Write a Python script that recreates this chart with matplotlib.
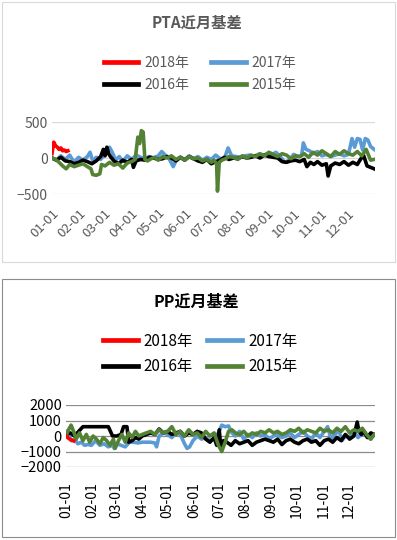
import matplotlib
matplotlib.use("Agg")
import matplotlib.pyplot as plt
from matplotlib.patches import Rectangle

plt.rcParams['font.family'] = ['Noto Sans CJK SC', 'DejaVu Sans']

month_days = [0, 31, 59, 90, 120, 151, 181, 212, 243, 273, 304, 334]
month_labels = ['01-01', '02-01', '03-01', '04-01', '05-01', '06-01',
                '07-01', '08-01', '09-01', '10-01', '11-01', '12-01']

# ---------------- PTA ----------------
pta_2018_d = [0, 2, 4, 6, 8, 10, 12, 14, 16, 18]
pta_2018_v = [60, 220, 170, 150, 120, 140, 100, 110, 90, 100]

pta_2017_d = [0, 5, 10, 15, 20, 25, 30, 35, 40, 43, 46, 50, 55, 60, 65, 68, 72, 76, 80, 85, 90, 95, 100, 105,
              110, 115, 120, 124, 128, 132, 137, 140, 145, 150, 155, 160, 165, 170, 175, 180, 185, 190, 195,
              199, 203, 208, 213, 218, 223, 228, 233, 238, 243, 248, 253, 258, 263, 268, 273, 278, 282, 284,
              287, 291, 295, 300, 305, 310, 315, 320, 325, 330, 335, 339, 342, 345, 348, 351, 354, 357, 360, 364]
pta_2017_v = [0, -30, 30, -20, 40, -60, 10, -30, 20, 80, -40, 10, -20, 60, 150, 80, -30, 20, -50, 30, -20, 40,
              10, -10, 20, 0, 30, 90, 40, 0, -120, -40, 10, -20, 30, -10, 20, -30, 10, -20, 40, -10, 0, 140, 30,
              20, 10, 30, 40, 20, 50, 30, 60, 40, 80, 20, -60, -30, 50, 20, 30, 210, 120, 100, 60, 90, 30, 50,
              20, 40, 60, 30, 50, 270, 150, 270, 260, 110, 270, 250, 160, 120]

pta_2016_d = [0, 5, 10, 15, 20, 25, 30, 35, 40, 45, 50, 55, 58, 60, 62, 64, 66, 70, 75, 80, 85, 90, 92, 95, 100,
              105, 110, 115, 120, 125, 130, 135, 140, 145, 150, 155, 160, 165, 170, 175, 180, 185, 190, 195,
              200, 205, 210, 215, 220, 225, 230, 235, 240, 245, 250, 255, 260, 265, 270, 275, 280, 285, 288,
              292, 296, 300, 305, 310, 312, 315, 320, 325, 330, 335, 340, 345, 348, 352, 356, 360, 364]
pta_2016_v = [0, -30, 10, -40, -50, -80, -60, -30, -50, -80, -40, 20, 120, 30, 150, 60, 20, -40, -80, -30, -60,
              -20, -130, -40, -20, -30, 10, 0, -20, -10, 20, 0, -40, 10, -30, 20, -10, -40, -60, -20, -80, -50,
              -30, 10, -20, 0, -10, 20, 0, 10, 30, 0, 40, 20, 10, 0, -50, -60, -40, -30, -50, -20, -120, -60,
              -90, -50, -100, -80, -250, -110, -70, -90, -50, -100, -60, -90, -30, 40, -110, -130, -150]

pta_2015_d = [0, 4, 8, 12, 16, 20, 25, 30, 35, 40, 44, 46, 50, 54, 56, 60, 65, 70, 75, 80, 85, 90, 94, 97, 99,
              101, 103, 105, 108, 112, 116, 120, 125, 130, 135, 140, 145, 150, 155, 160, 165, 170, 175, 180,
              183, 186, 187, 189, 192, 196, 200, 205, 210, 215, 220, 225, 230, 235, 240, 245, 250, 255, 260,
              265, 270, 275, 280, 285, 290, 295, 300, 305, 310, 315, 320, 325, 330, 335, 340, 345, 350, 355,
              360, 364]
pta_2015_v = [0, -20, -60, -110, -150, -90, -120, -100, -80, -120, -150, -230, -240, -220, -90, -110, -60, -100,
              -80, -140, -70, -50, -20, 290, 200, 380, 360, -20, -40, -10, 10, -30, 20, 0, 30, -20, 10, -30,
              20, -10, 0, -40, -20, -60, -30, -80, -460, -60, -30, -10, 20, 10, -20, 30, 0, 40, 20, 60, 30, 80,
              50, 20, 60, 40, -10, 30, 20, 60, 10, 80, 40, 100, 60, 20, 90, 50, 100, 60, 40, 90, 30, 120, -30, -20]

# ---------------- PP ----------------
pp_2018_d = [0, 3, 6, 9]
pp_2018_v = [0, -150, -250, -320]

pp_2017_d = [0, 3, 6, 10, 14, 18, 22, 26, 30, 35, 40, 45, 50, 55, 57, 60, 65, 70, 75, 80, 85, 90, 95, 100, 105,
             107, 110, 115, 120, 125, 130, 135, 140, 143, 146, 150, 155, 160, 165, 170, 175, 180, 184, 188, 192,
             196, 200, 205, 210, 215, 220, 225, 230, 235, 240, 245, 250, 255, 260, 265, 270, 275, 280, 285, 290,
             295, 300, 305, 309, 313, 318, 322, 326, 330, 335, 340, 345, 350, 355, 360, 364]
pp_2017_v = [300, 100, -300, -200, -500, -400, -600, -550, -600, -300, -600, -500, -700, -600, -800, -500, -600,
             -700, -400, -400, -450, -400, -400, -400, -450, -700, 0, 200, 100, -100, 200, 100, -500, -800, -700,
             -300, 0, -200, -100, -300, -200, 200, 700, 600, 650, 200, 0, 300, -200, 100, -100, 200, 0, 100, -200,
             0, 100, -100, 0, 200, -100, 100, 300, 0, -200, 200, -100, 300, 600, -200, 100, 400, -300, 0, -100,
             300, -100, 200, 0, -200, 100]

pp_2016_d = [0, 5, 10, 15, 20, 25, 30, 35, 40, 45, 50, 55, 60, 65, 68, 72, 74, 78, 82, 86, 90, 95, 100, 105, 110,
             115, 120, 125, 130, 135, 140, 145, 150, 155, 160, 165, 170, 175, 178, 181, 183, 186, 190, 195, 200,
             205, 210, 215, 220, 225, 230, 235, 240, 245, 250, 255, 260, 265, 270, 275, 280, 285, 290, 295, 300,
             305, 310, 315, 320, 325, 330, 335, 340, 344, 346, 349, 352, 356, 360, 364]
pp_2016_v = [100, 200, 0, 300, 600, 600, 600, 600, 600, 600, 600, 0, 0, 100, 600, 600, -400, -300, -100, -200, 0,
             100, 200, 100, 450, 200, 300, 100, 200, 300, 0, 200, 100, 300, 200, -200, -400, -100, -600, 400,
             -800, -300, -400, -600, -300, -500, -400, -300, -600, -400, -300, -200, -300, -400, -200, -550,
             -300, -200, -400, -500, -300, -200, -400, -300, -600, -300, -200, -400, -100, -300, 100, -200, 0,
             900, 300, 100, 300, -100, 200, 100]

pp_2015_d = [0, 3, 6, 9, 12, 16, 20, 24, 28, 32, 36, 40, 44, 48, 52, 56, 58, 62, 66, 70, 74, 78, 82, 86, 90, 95,
             100, 105, 110, 115, 120, 125, 130, 135, 140, 145, 150, 155, 160, 165, 170, 175, 180, 184, 188, 192,
             196, 200, 205, 210, 215, 220, 225, 230, 235, 240, 245, 250, 255, 260, 265, 270, 275, 280, 285, 290,
             295, 300, 305, 310, 315, 320, 325, 330, 335, 340, 345, 350, 355, 360, 364]
pp_2015_v = [0, 400, 700, 300, -200, 200, -300, 100, -400, 0, -200, -500, -100, -300, -600, -200, -800, -300, 100,
             -400, 200, -100, 300, 0, 100, 200, 300, 100, 400, 200, 300, 600, 100, 300, 0, 400, 100, 200, -100,
             300, 0, 200, -600, -1000, -400, 300, 400, 200, 100, 300, 0, 200, 100, 300, 200, 400, 200, 300, 100,
             200, 400, 300, 500, 200, 400, 300, 200, 500, 300, 400, 200, 500, 300, 600, 200, 400, 300, 500, 100,
             -200, 100]

C18, C17, C16, C15 = '#ff0000', '#5b9bd5', '#000000', '#548235'
W, H = 397, 540

fig = plt.figure(figsize=(W / 100, H / 100), dpi=100)

# panel borders
fig.patches.append(Rectangle((2 / W, 1 - 262 / H), 393 / W, 260 / H, transform=fig.transFigure,
                             fill=False, edgecolor='#d9d9d9', linewidth=0.8))
fig.patches.append(Rectangle((2 / W, 1 - 537 / H), 393 / W, 258 / H, transform=fig.transFigure,
                             fill=False, edgecolor='#8c8c8c', linewidth=0.8))


def make_axes(rect, ylim, yticks, gridc, textc, rot, fs_y, fs_x, pad_x):
    ax = fig.add_axes(rect)
    ax.set_xlim(0, 365)
    ax.set_ylim(*ylim)
    ax.set_yticks(yticks)
    ax.set_xticks(month_days)
    for s in ax.spines.values():
        s.set_visible(False)
    ax.grid(axis='y', color=gridc, linewidth=0.9)
    ax.set_axisbelow(True)
    ax.tick_params(length=0)
    ax.tick_params(axis='y', labelsize=fs_y, labelcolor=textc, pad=3)
    ax.tick_params(axis='x', labelsize=fs_x, labelcolor=textc, pad=pad_x)
    if rot == 45:
        ax.set_xticklabels(month_labels, rotation=45, ha='right', rotation_mode='anchor')
    else:
        ax.set_xticklabels(month_labels, rotation=90, ha='center', va='top')
    return ax


# ---- top chart ----
ax1 = make_axes([52 / W, 1 - 194 / H, 323 / W, 72 / H], (-500, 500), [-500, 0, 500],
                '#d9d9d9', '#595959', 45, 10, 9.5, 9)
lw = 2.6
l17, = ax1.plot(pta_2017_d, pta_2017_v, color=C17, lw=lw)
l16, = ax1.plot(pta_2016_d, pta_2016_v, color=C16, lw=lw)
l15, = ax1.plot(pta_2015_d, pta_2015_v, color=C15, lw=lw)
l18, = ax1.plot(pta_2018_d, pta_2018_v, color=C18, lw=lw)

fig.text(197 / W, 1 - 23 / H, 'PTA近月基差', ha='center', va='center', fontsize=11,
         fontweight='bold', color='#595959')
leg1 = fig.legend([l18, l16, l17, l15], ['2018年', '2016年', '2017年', '2015年'], ncol=2,
                  loc='center', bbox_to_anchor=(200 / W, 1 - 74 / H), frameon=False,
                  fontsize=10, handlelength=2.5, handletextpad=0.4, columnspacing=1.6,
                  labelspacing=0.6, borderpad=0)
for t in leg1.get_texts():
    t.set_color('#595959')
for h in leg1.legend_handles:
    h.set_linewidth(3.4)

# ---- bottom chart ----
ax2 = make_axes([66 / W, 1 - 467 / H, 309 / W, 62 / H], (-2000, 2000), [-2000, -1000, 0, 1000, 2000],
                '#8c8c8c', '#000000', 90, 10.5, 10, 11)
m17, = ax2.plot(pp_2017_d, pp_2017_v, color=C17, lw=lw)
m16, = ax2.plot(pp_2016_d, pp_2016_v, color=C16, lw=lw)
m15, = ax2.plot(pp_2015_d, pp_2015_v, color=C15, lw=lw)
m18, = ax2.plot(pp_2018_d, pp_2018_v, color=C18, lw=lw)

fig.text(196 / W, 1 - 302 / H, 'PP近月基差', ha='center', va='center', fontsize=11.5,
         fontweight='bold', color='#000000')
leg2 = fig.legend([m18, m16, m17, m15], ['2018年', '2016年', '2017年', '2015年'], ncol=2,
                  loc='center', bbox_to_anchor=(200 / W, 1 - 354 / H), frameon=False,
                  fontsize=11, handlelength=2.3, handletextpad=0.4, columnspacing=0.9,
                  labelspacing=0.55, borderpad=0)
for h in leg2.legend_handles:
    h.set_linewidth(3.4)

fig.savefig('out.png', dpi=100)
